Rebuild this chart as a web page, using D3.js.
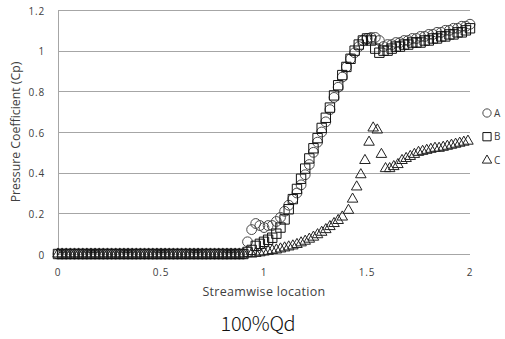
<!DOCTYPE html>
<html>
<head>
<meta charset="utf-8">
<script src="https://cdn.jsdelivr.net/npm/d3@7"></script>
<style>
  body { margin: 0; background: #fff; }
  svg { display: block; }
</style>
</head>
<body>
<div id="chart"></div>
<script>
// flat part shared by all three series (Cp = 0)
const locBase = [0, 0.02, 0.04, 0.06, 0.08, 0.1, 0.12, 0.14, 0.16, 0.18, 0.2, 0.22, 0.24, 0.26, 0.28, 0.3,
  0.32, 0.34, 0.36, 0.38, 0.4, 0.42, 0.44, 0.46, 0.48, 0.5, 0.52, 0.54, 0.56, 0.58, 0.6, 0.62, 0.64,
  0.66, 0.68, 0.7, 0.72, 0.74, 0.76, 0.78, 0.8, 0.82, 0.84, 0.86, 0.88, 0.9];
const cpBase = [0, 0, 0, 0, 0, 0, 0, 0, 0, 0, 0, 0, 0, 0, 0, 0, 0, 0, 0, 0, 0, 0, 0,
  0, 0, 0, 0, 0, 0, 0, 0, 0, 0, 0, 0, 0, 0, 0, 0, 0, 0, 0, 0, 0, 0, 0];

// series A
const locA = [0.92, 0.94, 0.96, 0.98, 1.0, 1.02, 1.04, 1.06, 1.08, 1.1, 1.12, 1.14, 1.16, 1.18, 1.2,
  1.22, 1.24, 1.26, 1.28, 1.3, 1.32, 1.34, 1.36, 1.38, 1.4, 1.42, 1.44, 1.46, 1.48, 1.5, 1.52, 1.54,
  1.56, 1.58, 1.6, 1.62, 1.64, 1.66, 1.68, 1.7, 1.72, 1.74, 1.76, 1.78, 1.8, 1.82, 1.84, 1.86, 1.88,
  1.9, 1.92, 1.94, 1.96, 1.98, 2.0];
const cpA = [0.06, 0.12, 0.15, 0.14, 0.13, 0.14, 0.14, 0.16, 0.18, 0.21, 0.24, 0.27, 0.3, 0.34, 0.39,
  0.44, 0.5, 0.55, 0.6, 0.65, 0.71, 0.77, 0.82, 0.87, 0.92, 0.96, 0.99, 1.02, 1.05, 1.06, 1.065, 1.065,
  1.05, 1.02, 1.03, 1.03, 1.04, 1.04, 1.05, 1.05, 1.06, 1.06, 1.07, 1.07, 1.08, 1.08, 1.09, 1.09, 1.1,
  1.1, 1.11, 1.11, 1.12, 1.12, 1.13];

// series B
const locB = [0.92, 0.94, 0.96, 0.98, 1.0, 1.02, 1.04, 1.06, 1.08, 1.1, 1.12, 1.14, 1.16, 1.18, 1.2,
  1.22, 1.24, 1.26, 1.28, 1.3, 1.32, 1.34, 1.36, 1.38, 1.4, 1.42, 1.44, 1.46, 1.48, 1.5, 1.52, 1.54,
  1.56, 1.58, 1.6, 1.62, 1.64, 1.66, 1.68, 1.7, 1.72, 1.74, 1.76, 1.78, 1.8, 1.82, 1.84, 1.86, 1.88,
  1.9, 1.92, 1.94, 1.96, 1.98, 2.0];
const cpB = [0.01, 0.02, 0.04, 0.05, 0.06, 0.07, 0.08, 0.1, 0.13, 0.17, 0.22, 0.27, 0.32, 0.37, 0.42,
  0.47, 0.52, 0.57, 0.62, 0.67, 0.72, 0.78, 0.83, 0.88, 0.92, 0.96, 1.0, 1.03, 1.05, 1.06, 1.05, 1.01,
  0.99, 1.0, 1.0, 1.01, 1.02, 1.02, 1.03, 1.03, 1.04, 1.04, 1.04, 1.05, 1.05, 1.06, 1.06, 1.07, 1.07,
  1.08, 1.08, 1.09, 1.09, 1.1, 1.11];

// series C
const locC = [0.94, 0.96, 0.98, 1.0, 1.02, 1.04, 1.06, 1.08, 1.1, 1.12, 1.14, 1.16, 1.18, 1.2, 1.22,
  1.24, 1.26, 1.28, 1.3, 1.32, 1.34, 1.36, 1.38, 1.41, 1.43, 1.45, 1.47, 1.49, 1.51, 1.53, 1.55, 1.57,
  1.59, 1.61, 1.63, 1.65, 1.67, 1.69, 1.71, 1.73, 1.75, 1.77, 1.79, 1.81, 1.83, 1.85, 1.87, 1.89, 1.91,
  1.93, 1.95, 1.97, 1.99];
const cpC = [0, 0.003, 0.006, 0.01, 0.013, 0.017, 0.02, 0.025, 0.03, 0.035, 0.04, 0.047, 0.055, 0.063,
  0.073, 0.083, 0.095, 0.107, 0.12, 0.135, 0.15, 0.165, 0.182, 0.215, 0.27, 0.33, 0.39, 0.46, 0.55, 0.62,
  0.61, 0.49, 0.42, 0.42, 0.43, 0.44, 0.46, 0.47, 0.48, 0.49, 0.5, 0.505, 0.51, 0.515, 0.52, 0.52, 0.525,
  0.53, 0.535, 0.54, 0.545, 0.55, 0.555];

const seriesNames = ['A', 'B', 'C'];
const yTicks = [0, 0.2, 0.4, 0.6, 0.8, 1, 1.2];
const xTicks = [0, 0.5, 1, 1.5, 2];

const width = 505, height = 339;
const margin = {top: 10, right: 35, bottom: 85, left: 58};

const svg = d3.select('#chart').append('svg')
  .attr('width', width)
  .attr('height', height);

const x = d3.scaleLinear().domain([0, 2]).range([margin.left, 470]);
const y = d3.scaleLinear().domain([0, 1.2]).range([254, margin.top]);

const font = "'Open Sans', 'Noto Sans', sans-serif";

// horizontal gridlines
svg.append('g')
  .selectAll('line')
  .data(yTicks)
  .join('line')
    .attr('x1', x(0)).attr('x2', x(2))
    .attr('y1', d => Math.round(y(d)) + 0.5)
    .attr('y2', d => Math.round(y(d)) + 0.5)
    .attr('stroke', '#a6a6a6')
    .attr('stroke-width', 1);

// left axis line
svg.append('line')
  .attr('x1', x(0) + 0.5).attr('x2', x(0) + 0.5)
  .attr('y1', y(1.2)).attr('y2', y(0))
  .attr('stroke', '#a6a6a6');

// tick labels
svg.append('g')
  .selectAll('text')
  .data(yTicks)
  .join('text')
    .attr('x', 45)
    .attr('y', d => y(d) + 1)
    .attr('dy', '0.35em')
    .attr('text-anchor', 'end')
    .attr('font-family', font)
    .attr('font-size', 10)
    .attr('letter-spacing', 0.8)
    .attr('fill', '#404040')
    .text(d => d);

svg.append('g')
  .selectAll('text')
  .data(xTicks)
  .join('text')
    .attr('x', d => x(d))
    .attr('y', 272)
    .attr('dy', '0.35em')
    .attr('text-anchor', 'middle')
    .attr('font-family', font)
    .attr('font-size', 10)
    .attr('letter-spacing', 0.8)
    .attr('fill', '#404040')
    .text(d => d);

// axis titles
svg.append('text')
  .attr('x', 264).attr('y', 292)
  .attr('dy', '0.35em')
  .attr('text-anchor', 'middle')
  .attr('font-family', font)
  .attr('font-size', 12.5)
  .attr('letter-spacing', 0.3)
  .attr('fill', '#404040')
  .text('Streamwise location');

svg.append('text')
  .attr('transform', 'translate(16, 132) rotate(-90)')
  .attr('dy', '0.35em')
  .attr('text-anchor', 'middle')
  .attr('font-family', font)
  .attr('font-size', 12.3)
  .attr('fill', '#404040')
  .text('Pressure Coefficient (Cp)');

svg.append('text')
  .attr('x', 258).attr('y', 324)
  .attr('dy', '0.35em')
  .attr('text-anchor', 'middle')
  .attr('font-family', "'Noto Sans CJK KR', sans-serif")
  .attr('font-weight', 300)
  .attr('font-size', 20)
  .attr('letter-spacing', -0.3)
  .attr('fill', '#111')
  .text('100%Qd');

// markers
const shapes = {
  A: d3.symbol().type(d3.symbolCircle).size(76),
  B: d3.symbol().type(d3.symbolSquare).size(88),
  C: d3.symbol().type(d3.symbolTriangle).size(48)
};
const strokes = {A: '#4a4a4a', B: '#111', C: '#222'};

const series = [
  {name: 'A', loc: locBase.concat(locA), cp: cpBase.concat(cpA)},
  {name: 'B', loc: locBase.concat(locB), cp: cpBase.concat(cpB)},
  {name: 'C', loc: locBase.concat(locC), cp: cpBase.concat(cpC)}
];

series.forEach(s => {
  svg.append('g')
    .attr('class', 'series-' + s.name)
    .selectAll('path')
    .data(s.loc.map((d, i) => [d, s.cp[i]]))
    .join('path')
      .attr('transform', d => `translate(${x(d[0])}, ${y(d[1])})`)
      .attr('d', shapes[s.name]())
      .attr('fill', 'none')
      .attr('stroke', strokes[s.name])
      .attr('stroke-width', 1);
});

// legend
const legendShapes = {
  A: d3.symbol().type(d3.symbolCircle).size(54),
  B: d3.symbol().type(d3.symbolSquare).size(68),
  C: d3.symbol().type(d3.symbolTriangle).size(38)
};
const legend = svg.append('g')
  .selectAll('g')
  .data(seriesNames)
  .join('g')
    .attr('transform', (d, i) => `translate(487, ${113 + i * 23.7})`);

legend.append('path')
  .attr('d', d => legendShapes[d]())
  .attr('fill', 'none')
  .attr('stroke', d => strokes[d])
  .attr('stroke-width', 1);

legend.append('text')
  .attr('x', 7)
  .attr('dy', '0.35em')
  .attr('font-family', font)
  .attr('font-size', 10)
  .attr('fill', '#404040')
  .text(d => d);
</script>
</body>
</html>
